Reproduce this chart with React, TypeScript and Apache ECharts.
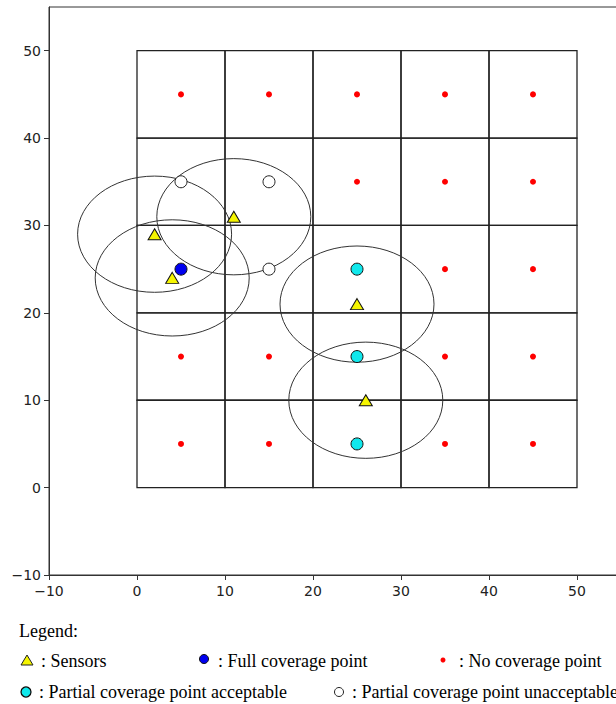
import React, { useEffect, useRef } from "react";
import * as echarts from "echarts";

// ---- data ----
const cellOriginsX = [0, 10, 20, 30, 40];
const cellOriginsY = [0, 10, 20, 30, 40];
const cellSize = 10;

const sensorsX = [2, 4, 11, 25, 26];
const sensorsY = [29, 24, 31, 21, 10];
const rangeRx = 8.75;
const rangeRy = 6.65;

const fullX = [5];
const fullY = [25];

const partialAccX = [25, 25, 25];
const partialAccY = [25, 15, 5];

const partialUnX = [5, 15, 15];
const partialUnY = [35, 35, 25];

const noCovX = [5, 15, 25, 35, 45, 25, 35, 45, 35, 45, 5, 15, 35, 45, 5, 15, 35, 45];
const noCovY = [45, 45, 45, 45, 45, 35, 35, 35, 25, 25, 15, 15, 15, 15, 5, 5, 5, 5];

const tickValues = [-10, 0, 10, 20, 30, 40, 50];

const zip = (xs: number[], ys: number[]) => xs.map((x, i) => [x, ys[i]]);

const fmt = (v: number) => (v < 0 ? "\u2212" + Math.abs(v) : String(v));

export default function App() {
  const ref = useRef<HTMLDivElement>(null);
  useEffect(() => {
    if (!ref.current) return;
    const chart = echarts.init(ref.current, null, { renderer: "svg" });

    const cells: number[][] = [];
    cellOriginsX.forEach((x) => cellOriginsY.forEach((y) => cells.push([x, y])));

    const axisCommon = (margin: number) => ({
      type: "value" as const,
      min: -10,
      max: 55,
      interval: 10,
      splitLine: { show: false },
      axisLine: { show: true, onZero: false, lineStyle: { color: "#333", width: 1 } },
      axisTick: { show: true, inside: false, length: 5, lineStyle: { color: "#333" }, customValues: tickValues },
      axisLabel: {
        color: "#222",
        fontSize: 14,
        fontFamily: "DejaVu Sans",
        margin,
        formatter: fmt,
        customValues: tickValues,
      },
    });

    const txt = (text: string, x: number, y: number) => ({
      type: "text",
      x,
      y,
      style: {
        text,
        fill: "#000",
        fontFamily: "Liberation Serif",
        fontSize: 18,
        verticalAlign: "middle",
        align: "left",
      },
    });

    chart.setOption({
      animation: false,
      backgroundColor: "#fff",
      grid: {
        left: 49,
        right: 19,
        top: 7,
        bottom: 129,
        show: true,
        borderColor: "#333",
        borderWidth: 1,
        backgroundColor: "transparent",
      },
      xAxis: { ...axisCommon(9) },
      yAxis: { ...axisCommon(8) },
      series: [
        {
          type: "custom",
          data: cells,
          z: 1,
          silent: true,
          renderItem: (params: any, api: any) => {
            const x = api.value(0);
            const y = api.value(1);
            const p = api.coord([x, y + cellSize]);
            const s = api.size([cellSize, cellSize]);
            return {
              type: "rect",
              shape: { x: p[0], y: p[1], width: s[0], height: s[1] },
              style: { fill: "none", stroke: "#222", lineWidth: 1.3 },
            };
          },
        },
        {
          type: "custom",
          data: zip(sensorsX, sensorsY),
          z: 2,
          silent: true,
          renderItem: (params: any, api: any) => {
            const c = api.coord([api.value(0), api.value(1)]);
            const s = api.size([rangeRx, rangeRy]);
            return {
              type: "ellipse",
              shape: { cx: c[0], cy: c[1], rx: s[0], ry: s[1] },
              style: { fill: "none", stroke: "#333", lineWidth: 1 },
            };
          },
        },
        {
          type: "scatter",
          data: zip(noCovX, noCovY),
          symbol: "circle",
          symbolSize: 6,
          z: 3,
          itemStyle: { color: "#ff0000", opacity: 1 },
        },
        {
          type: "scatter",
          data: zip(partialUnX, partialUnY),
          symbol: "circle",
          symbolSize: 12,
          z: 3,
          itemStyle: { color: "#ffffff", borderColor: "#222", borderWidth: 1, opacity: 1 },
        },
        {
          type: "scatter",
          data: zip(partialAccX, partialAccY),
          symbol: "circle",
          symbolSize: 12,
          z: 3,
          itemStyle: { color: "#10e8ec", borderColor: "#111", borderWidth: 1, opacity: 1 },
        },
        {
          type: "scatter",
          data: zip(fullX, fullY),
          symbol: "circle",
          symbolSize: 12,
          z: 3,
          itemStyle: { color: "#0000f0", borderColor: "#111", borderWidth: 1, opacity: 1 },
        },
        {
          type: "scatter",
          data: zip(sensorsX, sensorsY),
          symbol: "triangle",
          symbolSize: [13, 11],
          z: 4,
          itemStyle: { color: "#f5f500", borderColor: "#111", borderWidth: 1, opacity: 1 },
        },
      ],
      graphic: [
        txt("Legend:", 19, 631),
        {
          type: "polygon",
          shape: { points: [[21, 665], [33, 665], [27, 655]] },
          style: { fill: "#f5f500", stroke: "#222", lineWidth: 1 },
        },
        txt(": Sensors", 41, 661),
        {
          type: "circle",
          shape: { cx: 204, cy: 659, r: 4.5 },
          style: { fill: "#0000f0", stroke: "#111", lineWidth: 1 },
        },
        txt(": Full coverage point", 218, 661),
        {
          type: "circle",
          shape: { cx: 443, cy: 660, r: 2.5 },
          style: { fill: "#ff0000" },
        },
        txt(": No coverage point", 459, 661),
        {
          type: "circle",
          shape: { cx: 26, cy: 692, r: 5 },
          style: { fill: "#10e8ec", stroke: "#111", lineWidth: 1.3 },
        },
        txt(": Partial coverage point acceptable", 39, 692),
        {
          type: "circle",
          shape: { cx: 339, cy: 692, r: 4.5 },
          style: { fill: "#fff", stroke: "#222", lineWidth: 1 },
        },
        txt(": Partial coverage point unacceptable", 352, 692),
      ],
    });
    return () => chart.dispose();
  }, []);
  return (
    <div
      ref={ref}
      style={{ position: "fixed", left: 0, top: 0, width: 640, height: 704, background: "#fff" }}
    />
  );
}
